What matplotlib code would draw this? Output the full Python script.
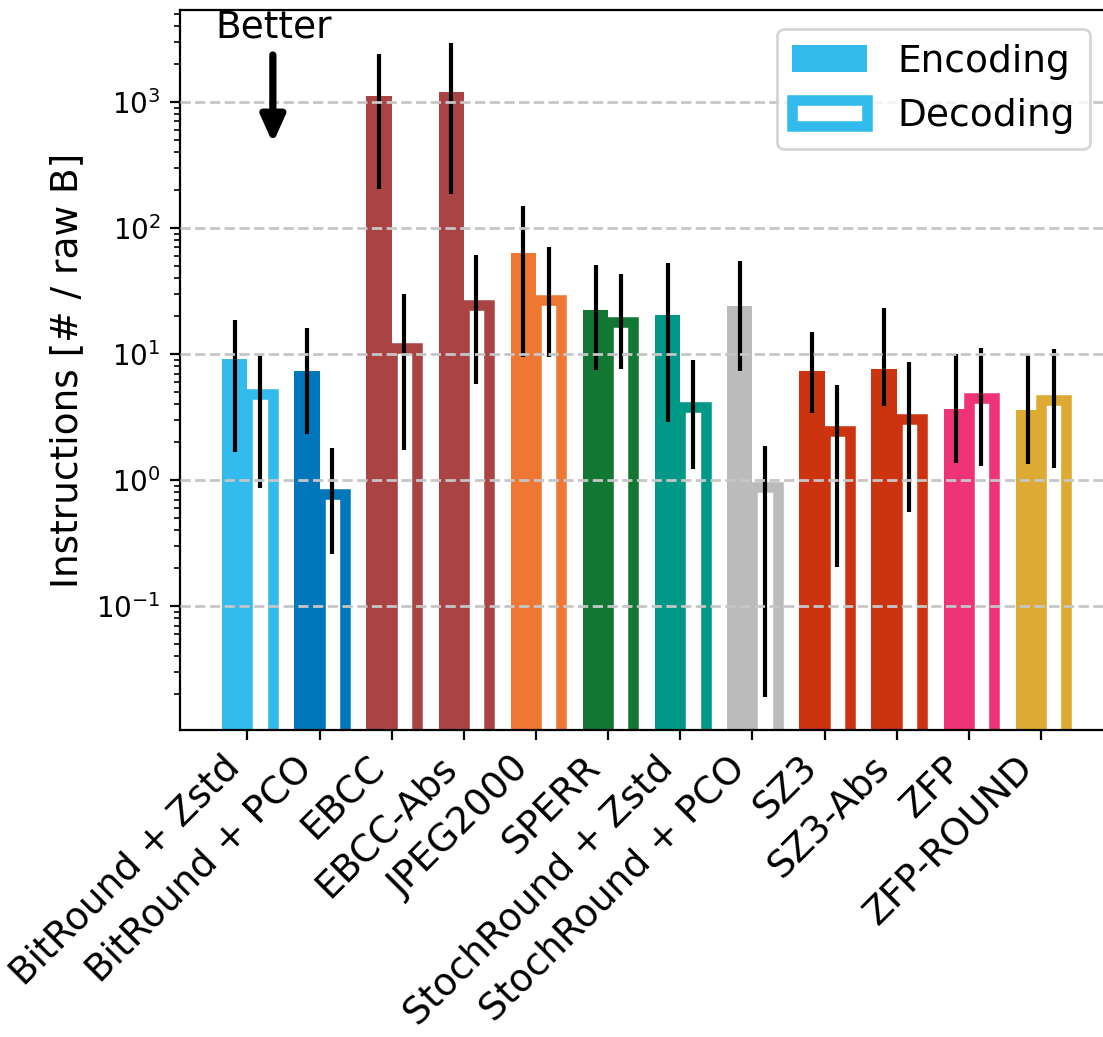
import numpy as np
from matplotlib import pyplot as plt

methods = ["BitRound + Zstd", "BitRound + PCO", "EBCC", "EBCC-Abs", "JPEG2000", "SPERR",
           "StochRound + Zstd", "StochRound + PCO", "SZ3", "SZ3-Abs", "ZFP", "ZFP-ROUND"]
colors = ["#33BBEE", "#0077BB", "#AA4444", "#AA4444", "#EE7733", "#117733",
          "#009988", "#BBBBBB", "#CC3311", "#CC3311", "#EE3377", "#DDAA33"]

# instructions per raw byte, median with lower / upper whisker
encode = [9.1, 7.3, 1117, 1200, 63.4, 22.4, 20.3, 24.0, 7.3, 7.6, 3.66, 3.59]
encode_low = [1.66, 2.31, 204, 186, 9.5, 7.4, 2.89, 7.3, 3.38, 3.89, 1.37, 1.33]
encode_high = [18.6, 16.0, 2405, 2955, 150, 50.6, 52.5, 54.4, 14.9, 23, 10.0, 9.8]

decode = [4.84, 0.78, 11.1, 24.6, 26.6, 17.9, 3.8, 0.885, 2.45, 3.07, 4.45, 4.3]
decode_low = [0.87, 0.26, 1.73, 5.75, 9.4, 7.6, 1.22, 0.019, 0.203, 0.557, 1.30, 1.25]
decode_high = [9.9, 1.78, 29.9, 60.7, 70, 42.9, 8.9, 1.87, 5.7, 8.6, 11.1, 10.9]

plt.rcParams["font.size"] = 13.5

fig = plt.figure(figsize=(5.515, 5.185), dpi=200)
ax = fig.add_axes([0.1632, 0.2960, 0.8417, 0.6944])

x = np.arange(len(methods))
width = 0.35

enc = np.array(encode)
dec = np.array(decode)
enc_err = [enc - np.array(encode_low), np.array(encode_high) - enc]
dec_err = [dec - np.array(decode_low), np.array(decode_high) - dec]

for i in x:
    ax.bar(x[i] + width / 2, dec[i], width, facecolor="white", edgecolor=colors[i],
           linewidth=3.8, label="Decoding" if i == 0 else None)
    ax.bar(x[i] - width / 2, enc[i], width, color=colors[i], linewidth=0,
           label="Encoding" if i == 0 else None)

ax.errorbar(x - width / 2, enc, yerr=enc_err, fmt="none", ecolor="black", elinewidth=1.5, capsize=0)
ax.errorbar(x + width / 2, dec, yerr=dec_err, fmt="none", ecolor="black", elinewidth=1.5, capsize=0)

ax.set_yscale("log")
ax.set_ylim(10 ** -1.984, 10 ** 3.730)
ax.set_xlim(-0.935, len(methods) - 1 + 0.935)
ax.set_xticks(x)
ax.set_xticklabels(methods, rotation=45, ha="right", fontsize=13.5)
ax.tick_params(axis="y", labelsize=10)
ax.set_ylabel("Instructions [# / raw B]", fontsize=13.5)

ax.set_axisbelow(False)
ax.yaxis.grid(True, which="major", linestyle="--", color="#C6C6C6", linewidth=1)

ax.text(0.101, 0.976, "Better", transform=ax.transAxes, ha="center", va="center", fontsize=13.5)
ax.annotate("", xy=(0.100, 0.815), xytext=(0.100, 0.9375), xycoords="axes fraction",
            arrowprops=dict(arrowstyle="-|>,head_width=0.18,head_length=0.4", lw=2.6,
                            color="black", shrinkA=0, shrinkB=0, mutation_scale=20,
                            capstyle="round", joinstyle="round"))

handles, labels = ax.get_legend_handles_labels()
order = [labels.index("Encoding"), labels.index("Decoding")]
ax.legend([handles[k] for k in order], [labels[k] for k in order], loc="upper right", fontsize=13.5)

fig.savefig("out.png", dpi=200)
